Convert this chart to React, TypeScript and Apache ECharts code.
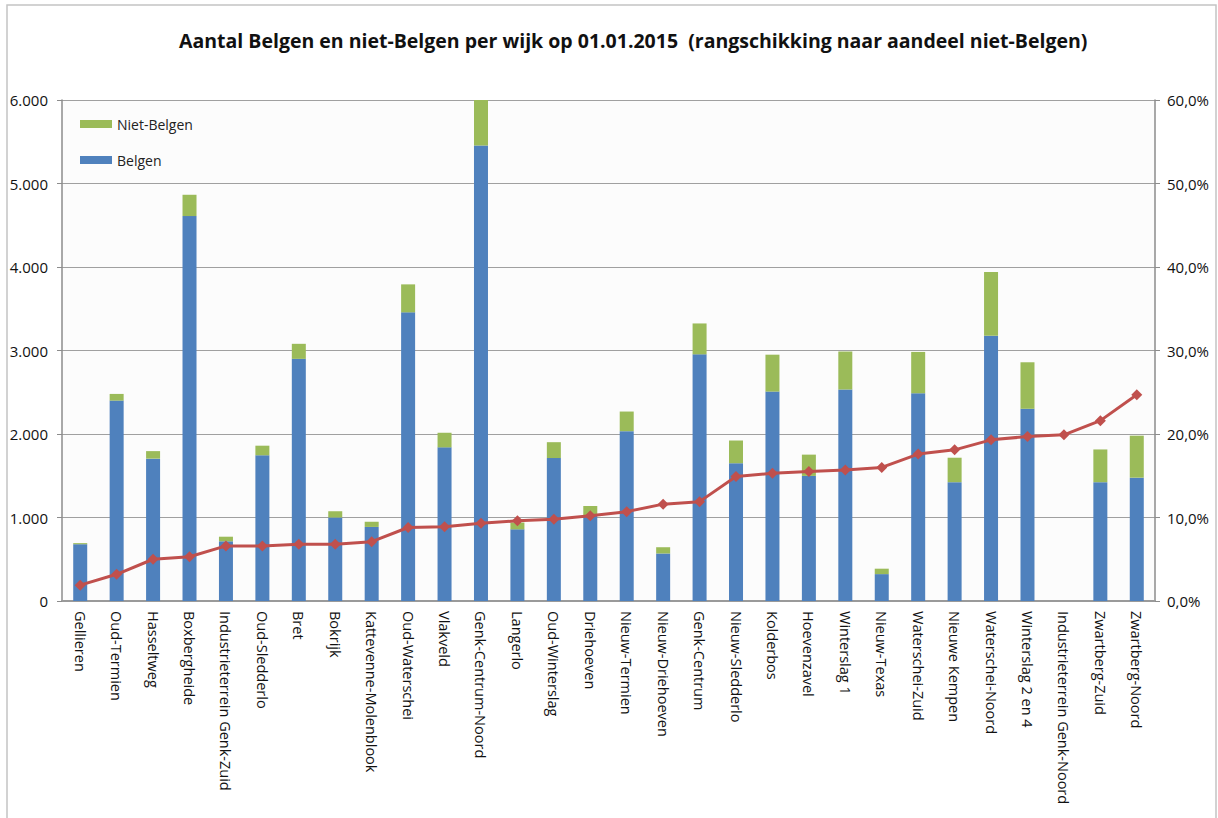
import React, { useEffect, useRef } from "react";
import * as echarts from "echarts";

// Wijken, gerangschikt naar aandeel niet-Belgen
const wijken = [
  "Gellieren",
  "Oud-Termien",
  "Hasseltweg",
  "Boxbergheide",
  "Industrieterrein Genk-Zuid",
  "Oud-Sledderlo",
  "Bret",
  "Bokrijk",
  "Kattevenne-Molenblook",
  "Oud-Waterschei",
  "Vlakveld",
  "Genk-Centrum-Noord",
  "Langerlo",
  "Oud-Winterslag",
  "Driehoeven",
  "Nieuw-Termien",
  "Nieuw-Driehoeven",
  "Genk-Centrum",
  "Nieuw-Sledderlo",
  "Kolderbos",
  "Hoevenzavel",
  "Winterslag 1",
  "Nieuw-Texas",
  "Waterschei-Zuid",
  "Nieuwe Kempen",
  "Waterschei-Noord",
  "Winterslag 2 en 4",
  "Industrieterrein Genk-Noord",
  "Zwartberg-Zuid",
  "Zwartberg-Noord",
];

const belgen = [
  680, 2400, 1705, 4610, 715, 1745, 2900, 1000, 887, 3457, 1840, 5455, 858, 1712,
  1023, 2034, 569, 2954, 1650, 2508, 1498, 2533, 322, 2488, 1423, 3177, 2302, 0,
  1423, 1477,
];

const nietBelgen = [
  13, 80, 90, 255, 55, 115, 180, 75, 62, 335, 175, 545, 82, 190, 115, 235, 75, 370,
  272, 442, 255, 455, 65, 495, 293, 763, 557, 0, 392, 503,
];

// Aandeel niet-Belgen (%)
const aandeel = [
  1.9, 3.2, 5.0, 5.3, 6.6, 6.6, 6.8, 6.8, 7.1, 8.8, 8.9, 9.3, 9.6, 9.8, 10.2, 10.7,
  11.6, 11.9, 14.9, 15.3, 15.5, 15.7, 16.0, 17.6, 18.1, 19.3, 19.7, 19.9, 21.6, 24.7,
];

const titel =
  "Aantal Belgen en niet-Belgen per wijk op 01.01.2015  (rangschikking naar aandeel niet-Belgen)";

const FONT = "'Open Sans', 'Liberation Sans', sans-serif";

const fmtAantal = (v: number) =>
  v === 0 ? "0" : v.toLocaleString("de-DE", { maximumFractionDigits: 0 });
const fmtPct = (v: number) => v.toFixed(1).replace(".", ",") + "%";

export default function App() {
  const ref = useRef<HTMLDivElement>(null);

  useEffect(() => {
    if (!ref.current) return;
    const chart = echarts.init(ref.current, null, { renderer: "svg" });
    chart.setOption({
      animation: false,
      backgroundColor: "#ffffff",
      textStyle: { fontFamily: FONT },
      graphic: [
        {
          type: "rect",
          shape: { x: 7, y: 5, width: 1209, height: 830 },
          style: { fill: "none", stroke: "#c4c4c4", lineWidth: 1.5 },
          silent: true,
        },
      ],
      title: {
        text: titel,
        left: 174,
        top: 25,
        textStyle: {
          fontFamily: FONT,
          fontSize: 19.5,
          fontWeight: "bold",
          color: "#111111",
        },
      },
      legend: {
        orient: "vertical",
        left: 75,
        top: 112,
        itemWidth: 32,
        itemHeight: 8,
        itemGap: 22,
        icon: "rect",
        data: ["Niet-Belgen", "Belgen"],
        textStyle: { fontFamily: FONT, fontSize: 14, color: "#222222" },
      },
      grid: {
        left: 62,
        right: 63,
        top: 100,
        bottom: 217,
        show: true,
        backgroundColor: "#fcfcfc",
        borderWidth: 0,
      },
      xAxis: {
        type: "category",
        data: wijken,
        axisLine: { show: true, lineStyle: { color: "#9a9a9a", width: 2 } },
        axisTick: { show: false },
        axisLabel: {
          rotate: -90,
          interval: 0,
          margin: 10,
          fontFamily: FONT,
          fontSize: 14.5,
          color: "#111111",
        },
      },
      yAxis: [
        {
          type: "value",
          min: 0,
          max: 6000,
          interval: 1000,
          axisLine: { show: true, lineStyle: { color: "#8c8c8c", width: 1.5 } },
          axisTick: { show: true, length: 5, lineStyle: { color: "#8c8c8c" } },
          splitLine: { show: true, lineStyle: { color: "#a0a0a0", width: 1.2 } },
          axisLabel: {
            formatter: fmtAantal,
            margin: 14,
            fontFamily: FONT,
            fontSize: 15,
            color: "#111111",
          },
        },
        {
          type: "value",
          min: 0,
          max: 60,
          interval: 10,
          position: "right",
          axisLine: { show: true, lineStyle: { color: "#8c8c8c", width: 1.5 } },
          axisTick: { show: true, length: 5, lineStyle: { color: "#8c8c8c" } },
          splitLine: { show: false },
          axisLabel: {
            formatter: fmtPct,
            margin: 12,
            fontFamily: FONT,
            fontSize: 15,
            color: "#111111",
          },
        },
      ],
      series: [
        {
          name: "Belgen",
          type: "bar",
          stack: "wijk",
          barWidth: 14,
          data: belgen,
          itemStyle: { color: "#4f81bd" },
        },
        {
          name: "Niet-Belgen",
          type: "bar",
          stack: "wijk",
          barWidth: 14,
          data: nietBelgen,
          itemStyle: { color: "#9bbb59" },
        },
        {
          name: "Aandeel niet-Belgen",
          type: "line",
          yAxisIndex: 1,
          data: aandeel,
          symbol: "diamond",
          symbolSize: 11,
          lineStyle: { color: "#c0504d", width: 3 },
          itemStyle: { color: "#c0504d" },
          z: 5,
        },
      ],
    });
    return () => chart.dispose();
  }, []);

  return (
    <div
      ref={ref}
      style={{ position: "fixed", left: 0, top: 0, width: 1218, height: 818 }}
    />
  );
}
